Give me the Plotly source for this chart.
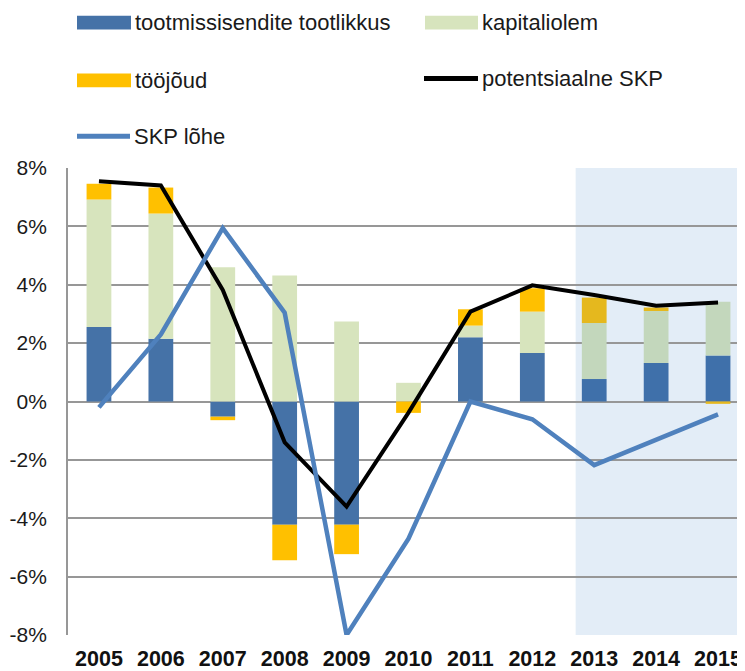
import plotly.graph_objects as go

years = ['2005', '2006', '2007', '2008', '2009', '2010', '2011', '2012', '2013', '2014', '2015']
productivity = [2.55, 2.15, -0.52, -4.22, -4.22, 0.0, 2.2, 1.66, 0.77, 1.32, 1.58]
capital = [4.37, 4.29, 4.6, 4.32, 2.74, 0.64, 0.4, 1.42, 1.92, 1.78, 1.84]
labour = [0.54, 0.89, -0.12, -1.22, -1.01, -0.39, 0.56, 0.8, 0.87, 0.12, -0.08]
potential = [7.55, 7.4, 3.82, -1.4, -3.6, -0.38, 3.08, 3.98, 3.65, 3.28, 3.39]
gap = [-0.2, 2.3, 5.94, 3.04, -8.0, -4.7, 0.0, -0.61, -2.18, -1.3, -0.44]
y_ticks = [-8, -6, -4, -2, 0, 2, 4, 6, 8]
y_tick_labels = ['-8%', '-6%', '-4%', '-2%', '0%', '2%', '4%', '6%', '8%']
forecast_from = 7.7

names = ['tootmissisendite tootlikkus', 'kapitaliolem', 'tööjõud', 'potentsiaalne SKP', 'SKP lõhe']

# page body has an 8px margin; figure is placed at (8, 8) in the window
OFF = 8
W, H = 745 - OFF, 671 - OFF
L, R, T, B = 68 - OFF, 0, 168 - OFF, 34
PW, PH = W - L - R, H - T - B

BLUE_BAR = '#4572A7'
GREEN = '#D7E4BD'
YELLOW = '#FFC000'
BLUE_BAR_F = '#3F70AA'
GREEN_F = '#C3D7BC'
YELLOW_F = '#E5B81E'
LINE_BLUE = '#4F81BD'
SHADE = '#E3EDF7'
FONT = 'Liberation Sans, Arial, sans-serif'

def cols(base, fc):
    return [fc if i >= forecast_from else base for i in range(len(years))]

fig = go.Figure()
fig.add_trace(go.Bar(x=years, y=productivity, name=names[0],
                     marker=dict(color=cols(BLUE_BAR, BLUE_BAR_F), line=dict(width=0)), width=0.4))
fig.add_trace(go.Bar(x=years, y=capital, name=names[1],
                     marker=dict(color=cols(GREEN, GREEN_F), line=dict(width=0)), width=0.4))
fig.add_trace(go.Bar(x=years, y=labour, name=names[2],
                     marker=dict(color=cols(YELLOW, YELLOW_F), line=dict(width=0)), width=0.4))
fig.add_trace(go.Scatter(x=years, y=potential, name=names[3], mode='lines',
                         line=dict(color='black', width=4)))
fig.add_trace(go.Scatter(x=years, y=gap, name=names[4], mode='lines',
                         line=dict(color=LINE_BLUE, width=4.5)))

# forecast shading
fig.add_shape(type='rect', xref='x', yref='paper', x0=forecast_from, x1=10.6, y0=0, y1=1,
              fillcolor=SHADE, line=dict(width=0), layer='below')

def px(xp):
    return (xp - OFF - L) / PW

def py(yp):
    return (H - B - (yp - OFF)) / PH

# manual legend (window pixel positions)
legend_items = [
    (names[0], 'rect', BLUE_BAR, 77, 131, 22),
    (names[1], 'rect', GREEN, 425, 478, 22),
    (names[2], 'rect', YELLOW, 77, 131, 80),
    (names[3], 'line', 'black', 424, 478, 78),
    (names[4], 'line', LINE_BLUE, 77, 130, 136),
]
for text, kind, color, x0, x1, yc in legend_items:
    if kind == 'rect':
        fig.add_shape(type='rect', xref='paper', yref='paper', x0=px(x0), x1=px(x1),
                      y0=py(yc + 7), y1=py(yc - 7), fillcolor=color, line=dict(width=0))
    else:
        fig.add_shape(type='line', xref='paper', yref='paper', x0=px(x0), x1=px(x1),
                      y0=py(yc), y1=py(yc), line=dict(color=color, width=5))
    fig.add_annotation(text=text, xref='paper', yref='paper', x=px(x1 + 2), y=py(yc),
                       xanchor='left', yanchor='middle', showarrow=False,
                       font=dict(family=FONT, size=22, color='#1a1a1a'))

fig.update_layout(
    width=W, height=H,
    margin=dict(l=L, r=R, t=T, b=B, pad=0),
    barmode='relative',
    showlegend=False,
    plot_bgcolor='rgba(0,0,0,0)',
    paper_bgcolor='white',
    font=dict(family=FONT, color='#1a1a1a'),
)
fig.update_xaxes(range=[-0.5, 10.5 - 4 / 62], showgrid=False, showline=False, zeroline=False,
                 ticks='', tickfont=dict(size=21.5, family=FONT, color='#111', weight='bold'),
                 ticklabelstandoff=8, fixedrange=True)
fig.update_yaxes(range=[-8, 8], tickvals=y_ticks, ticktext=y_tick_labels,
                 showgrid=True, gridcolor='#979797', gridwidth=1.5,
                 showline=True, linecolor='#979797', linewidth=1.7,
                 zeroline=False, ticks='', tickfont=dict(size=21, family=FONT, color='#1a1a1a'),
                 ticklabelstandoff=15, fixedrange=True)

fig.write_html('out.html')
